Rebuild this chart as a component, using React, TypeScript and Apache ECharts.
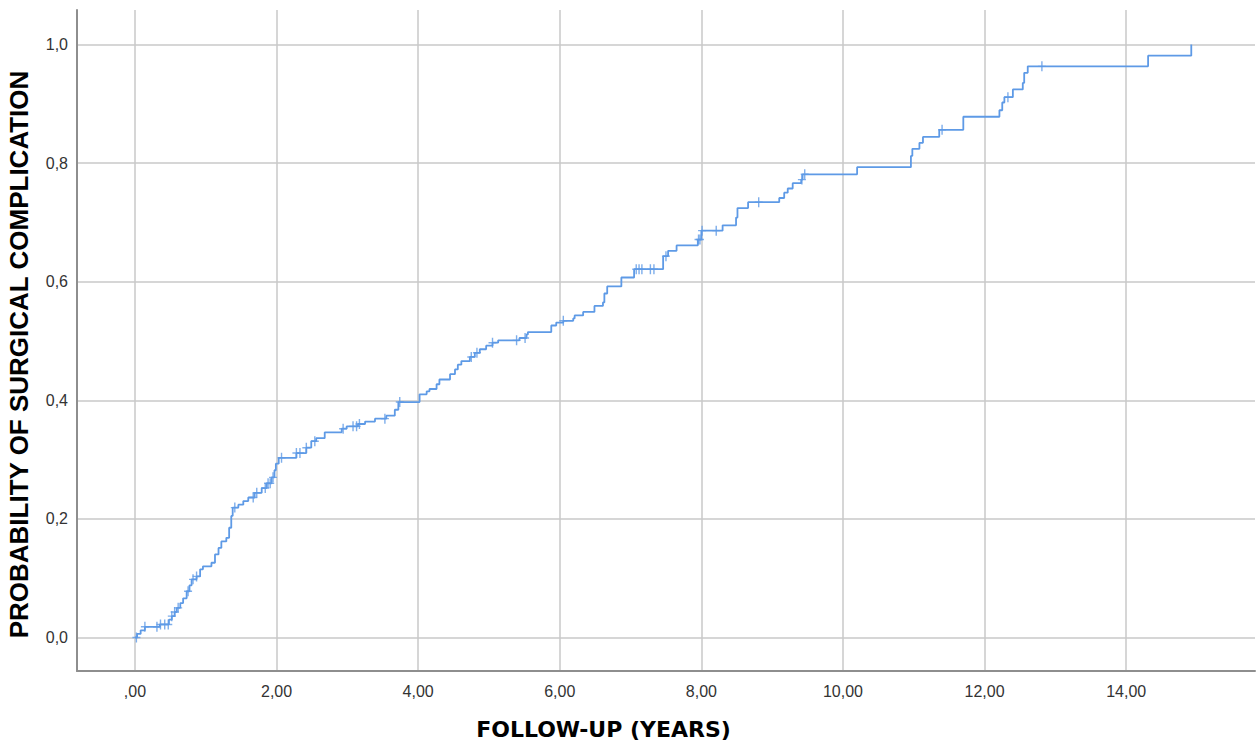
import React, { useEffect, useRef } from "react";
import * as echarts from "echarts";

// Kaplan-Meier style cumulative incidence: event times (years) and probability after each step
const eventTimes = [
  0, 0.03, 0.08, 0.14, 0.35, 0.48, 0.52, 0.56, 0.59, 0.64, 0.68, 0.73, 0.77, 0.8, 0.87, 0.92, 0.96,
  1.08, 1.13, 1.18, 1.22, 1.29, 1.33, 1.36, 1.38, 1.46, 1.53, 1.6, 1.69, 1.79, 1.86, 1.93, 1.97,
  1.99, 2.03, 2.28, 2.42, 2.49, 2.56, 2.68, 2.92, 2.99, 3.15, 3.25, 3.39, 3.55, 3.67, 3.72, 4.02,
  4.12, 4.16, 4.26, 4.3, 4.45, 4.52, 4.56, 4.61, 4.73, 4.8, 4.87, 4.96, 5.05, 5.13, 5.43, 5.53,
  5.55, 5.88, 5.95, 6.05, 6.19, 6.21, 6.33, 6.49, 6.61, 6.63, 6.67, 6.87, 7.05, 7.46, 7.53, 7.65,
  7.95, 8.0, 8.3, 8.49, 8.51, 8.66, 9.1, 9.17, 9.22, 9.29, 9.41, 9.43, 10.2, 10.96, 10.98, 11.08,
  11.13, 11.36, 11.7, 12.21, 12.25, 12.28, 12.4, 12.54, 12.56, 12.61, 14.31, 14.92,
];
const eventProbs = [
  0, 0.006, 0.012, 0.018, 0.022, 0.03, 0.036, 0.043, 0.05, 0.058, 0.066, 0.078, 0.088, 0.098,
  0.103, 0.115, 0.12, 0.126, 0.14, 0.151, 0.162, 0.168, 0.185, 0.205, 0.219, 0.224, 0.23, 0.236,
  0.244, 0.252, 0.26, 0.27, 0.282, 0.293, 0.303, 0.311, 0.32, 0.331, 0.336, 0.346, 0.352, 0.356,
  0.36, 0.364, 0.369, 0.374, 0.384, 0.397, 0.41, 0.415, 0.419, 0.427, 0.435, 0.444, 0.452, 0.46,
  0.466, 0.473, 0.48, 0.486, 0.492, 0.497, 0.501, 0.505, 0.511, 0.515, 0.526, 0.531, 0.534,
  0.538, 0.543, 0.549, 0.559, 0.565, 0.58, 0.592, 0.607, 0.621, 0.643, 0.652, 0.661, 0.671,
  0.686, 0.695, 0.708, 0.724, 0.734, 0.741, 0.75, 0.757, 0.766, 0.772, 0.781, 0.793, 0.812,
  0.824, 0.834, 0.844, 0.856, 0.878, 0.889, 0.902, 0.911, 0.924, 0.935, 0.952, 0.963, 0.981, 1.0,
];
// Censored observations (years)
const censorTimes = [
  0.02, 0.14, 0.31, 0.36, 0.42, 0.47, 0.52, 0.56, 0.61, 0.75, 0.82, 0.87, 1.41, 1.67, 1.72, 1.84,
  1.88, 1.91, 1.95, 2.07, 2.28, 2.33, 2.42, 2.54, 2.94, 3.08, 3.13, 3.17, 3.53, 3.74, 4.75, 4.83,
  5.05, 5.39, 5.51, 6.05, 7.08, 7.12, 7.16, 7.28, 7.33, 7.5, 7.96, 7.98, 8.01, 8.21, 8.81, 9.42,
  9.46, 11.4, 12.33, 12.81,
];
const xTicks = [0, 2, 4, 6, 8, 10, 12, 14];
const yTicks = [0, 0.2, 0.4, 0.6, 0.8, 1.0];

const LINE_COLOR = "#5e9ae6";

function probAt(t: number): number {
  let p = 0;
  for (let i = 0; i < eventTimes.length; i++) {
    if (eventTimes[i] <= t) p = eventProbs[i];
    else break;
  }
  return p;
}

export default function App() {
  const ref = useRef<HTMLDivElement>(null);
  useEffect(() => {
    if (!ref.current) return;
    const chart = echarts.init(ref.current, undefined, { renderer: "svg" });
    const curve = eventTimes.map((t, i) => [t, eventProbs[i]]);
    const censored = censorTimes.map((t) => [t, probAt(t)]);
    chart.setOption({
      animation: false,
      backgroundColor: "#ffffff",
      grid: { left: 77, right: 3, top: 10, bottom: 71, containLabel: false },
      xAxis: {
        type: "value",
        min: -0.819,
        max: 15.82,
        axisLine: { show: true, onZero: false, lineStyle: { color: "#8e8e8e", width: 2 } },
        axisTick: { show: false, customValues: xTicks },
        axisLabel: {
          customValues: xTicks,
          margin: 12,
          color: "#333333",
          fontSize: 16,
          fontFamily: "Liberation Sans",
          formatter: (v: number) => (v === 0 ? ",00" : v.toFixed(2).replace(".", ",")),
        },
        splitLine: { show: true, lineStyle: { color: "#c9c9c9", width: 1.5 } },
      },
      yAxis: {
        type: "value",
        min: -0.0565,
        max: 1.058,
        axisLine: { show: true, onZero: false, lineStyle: { color: "#8e8e8e", width: 2 } },
        axisTick: { show: false, customValues: yTicks },
        axisLabel: {
          customValues: yTicks,
          margin: 9,
          color: "#333333",
          fontSize: 16,
          fontFamily: "Liberation Sans",
          formatter: (v: number) => v.toFixed(1).replace(".", ","),
        },
        splitLine: { show: true, lineStyle: { color: "#c9c9c9", width: 1.5 } },
      },
      graphic: [
        {
          type: "text",
          x: 18.5,
          y: 354.5,
          rotation: Math.PI / 2,
          style: {
            text: "PROBABILITY OF SURGICAL COMPLICATION",
            font: 'bold 26px "Liberation Sans"',
            fill: "#000000",
            align: "center",
            verticalAlign: "middle",
          },
        },
        {
          type: "text",
          x: 603.5,
          y: 729.5,
          style: {
            text: "FOLLOW-UP (YEARS)",
            font: 'bold 22px "DejaVu Sans"',
            fill: "#000000",
            align: "center",
            verticalAlign: "middle",
          },
        },
      ],
      series: [
        {
          type: "line",
          data: curve,
          step: "end",
          showSymbol: false,
          symbol: "none",
          lineStyle: { color: LINE_COLOR, width: 1.8 },
        },
        {
          type: "scatter",
          data: censored,
          symbol: "path://M-0.7,-5H0.7V5H-0.7ZM-4,-0.7H4V0.7H-4Z",
          symbolSize: [8, 10],
          itemStyle: { color: LINE_COLOR },
        },
      ],
    });
    return () => chart.dispose();
  }, []);
  return (
    <div
      ref={ref}
      style={{ position: "absolute", left: 0, top: 0, width: 1258, height: 742 }}
    />
  );
}
